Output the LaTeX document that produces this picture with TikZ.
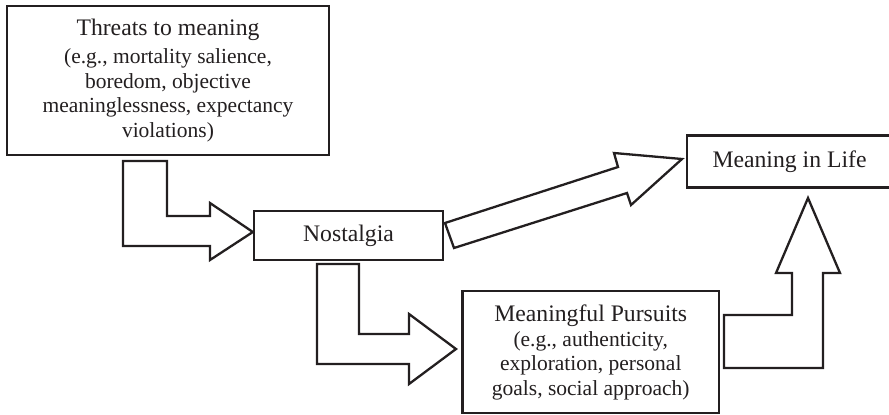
\documentclass[tikz,border=0pt]{standalone}
\usepackage{fontspec}
\setmainfont{Liberation Serif}
\usetikzlibrary{calc}
\definecolor{ink}{HTML}{231F20}
\begin{document}
\begin{tikzpicture}[x=1pt,y=-1pt,
  line width=2.3pt, draw=ink, text=ink,
  box/.style={draw=ink, fill=white, line width=2.3pt, inner sep=0pt,
    align=center, font=\fontsize{21.5}{24.5}\selectfont},
  blockarrow/.style={draw=ink, fill=white, line width=2.3pt, line join=miter},
  head/.style={font=\fontsize{23.7}{24.5}\selectfont}]
\useasboundingbox (0,0) rectangle (889,415);

% boxes
\node[box, minimum width=322pt, minimum height=149pt] (threats) at (168,80.5)
  {{\fontsize{23.7}{24.5}\selectfont Threats to meaning}\\[3.5pt]
   (e.g., mortality salience,\\ boredom, objective\\
   meaninglessness, expectancy\\ violations)};
\node[box, minimum width=189pt, minimum height=49pt, head] (nost) at (348.5,235.5)
  {Nostalgia};
\node[box, minimum width=205pt, minimum height=52pt, head] (life) at (789.5,161.5)
  {Meaning in Life};
\node[box, minimum width=256.5pt, minimum height=122pt] (pursuits) at (590.75,352)
  {{\fontsize{23.7}{24.5}\selectfont Meaningful Pursuits}\\[0.5pt]
   (e.g., authenticity,\\ exploration, personal\\ goals, social approach)};

% threats -> nostalgia (elbow block arrow)
\draw[blockarrow] (123,161) -- (167,161) -- (167,216) -- (210,216) -- (210,203)
  -- (nost.west |- 0,232) -- (210,260) -- (210,246) -- (123,246) -- cycle;

% nostalgia -> meaningful pursuits (elbow block arrow)
\draw[blockarrow] (317,264) -- (359,264) -- (359,334) -- (409,334) -- (409,314)
  -- (456,349) -- (409,384) -- (409,364) -- (317,364) -- cycle;

% nostalgia -> meaning in life (straight diagonal block arrow)
\draw[blockarrow] (445,223) -- (618,167) -- (614,153) -- (682,159)
  -- (631,205) -- (627,193) -- (454,248) -- cycle;

% meaningful pursuits -> meaning in life (elbow block arrow)
\draw[blockarrow] (724,315) -- (792,315) -- (792,273) -- (776,273) -- (808,198)
  -- (840,273) -- (823,273) -- (823,368) -- (724,368) -- cycle;
\end{tikzpicture}
\end{document}
